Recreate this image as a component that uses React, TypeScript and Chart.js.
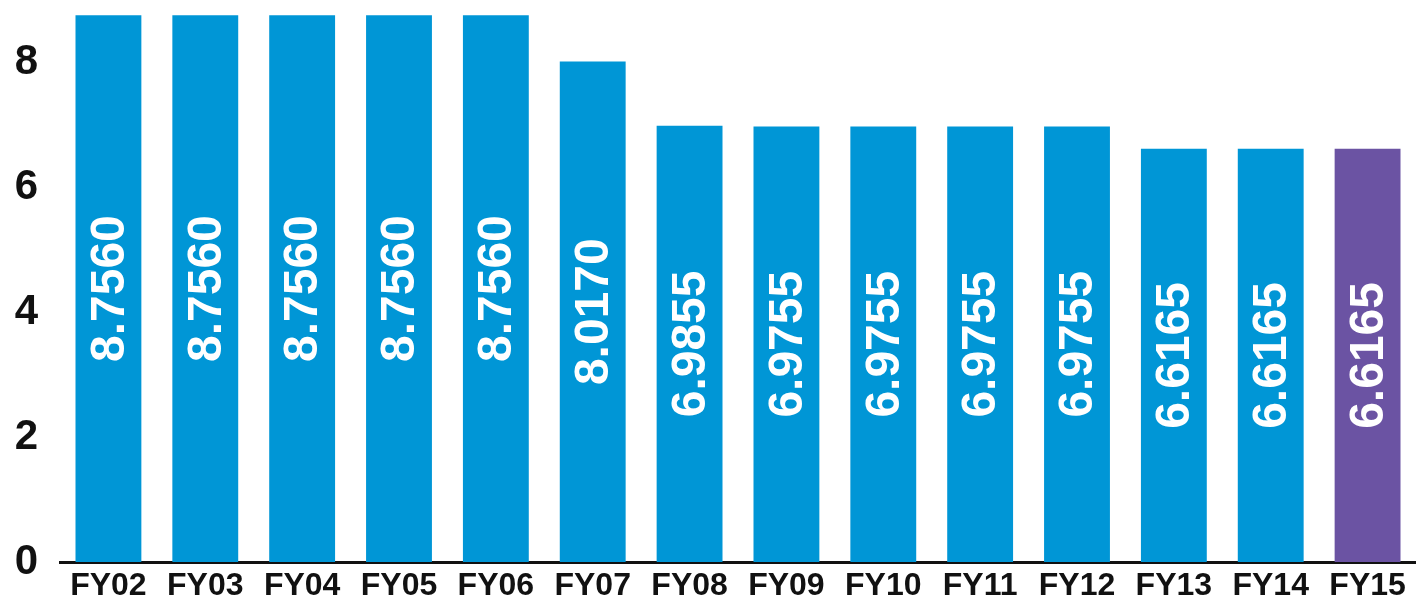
import React, { useEffect, useRef } from "react";
import { Chart, registerables } from "chart.js";

Chart.register(...registerables);

const categories = ["FY02", "FY03", "FY04", "FY05", "FY06", "FY07", "FY08", "FY09", "FY10", "FY11", "FY12", "FY13", "FY14", "FY15"];
const values = [8.756, 8.756, 8.756, 8.756, 8.756, 8.017, 6.9855, 6.9755, 6.9755, 6.9755, 6.9755, 6.6165, 6.6165, 6.6165];
const barColors = ["#0096D6", "#0096D6", "#0096D6", "#0096D6", "#0096D6", "#0096D6", "#0096D6", "#0096D6", "#0096D6", "#0096D6", "#0096D6", "#0096D6", "#0096D6", "#6B53A3"];
const yTicks = [0, 2, 4, 6, 8];

const FONT = "'Liberation Sans', Arial, sans-serif";

const valueLabelPlugin = {
  id: "valueLabels",
  afterDatasetsDraw(chart: any) {
    const ctx = chart.ctx;
    const meta = chart.getDatasetMeta(0);
    ctx.save();
    ctx.fillStyle = "#ffffff";
    ctx.font = `bold 48px ${FONT}`;
    ctx.textAlign = "center";
    ctx.textBaseline = "middle";
    meta.data.forEach((bar: any, i: number) => {
      const cy = (bar.y + bar.base) / 2;
      ctx.save();
      ctx.translate(bar.x, cy);
      ctx.rotate(-Math.PI / 2);
      ctx.fillText(values[i].toFixed(4), 0, 2);
      ctx.restore();
    });
    ctx.restore();
  },
};

export default function App() {
  const ref = useRef<HTMLCanvasElement>(null);
  useEffect(() => {
    if (!ref.current) return;
    const chart = new Chart(ref.current, {
      type: "bar",
      data: {
        labels: categories,
        datasets: [
          {
            data: values,
            backgroundColor: barColors,
            borderWidth: 0,
            barPercentage: 0.68,
            categoryPercentage: 1,
          },
        ],
      },
      options: {
        responsive: false,
        animation: false,
        layout: { padding: { top: 0, right: 0, left: 0, bottom: 0 } },
        plugins: { legend: { display: false }, tooltip: { enabled: false } },
        scales: {
          x: {
            grid: { display: false, drawTicks: false },
            border: { display: true, color: "#111111", width: 3 },
            ticks: {
              color: "#111111",
              font: { family: FONT, size: 32, weight: "bold" },
              padding: 5,
              maxRotation: 0,
              autoSkip: false,
            },
            afterFit(axis: any) {
              axis.height = 46;
              axis.paddingLeft = 0;
              axis.paddingRight = 0;
            },
          },
          y: {
            min: 0,
            max: 9,
            grid: { display: false, drawTicks: false },
            border: { display: false },
            ticks: {
              stepSize: 2,
              color: "#111111",
              font: { family: FONT, size: 42, weight: "bold" },
              padding: 22,
            },
            afterBuildTicks(axis: any) {
              axis.ticks = yTicks.map((v) => ({ value: v }));
            },
            afterFit(axis: any) {
              axis.width = 60;
              axis.paddingTop = 0;
              axis.paddingBottom = 0;
            },
          },
        },
      },
      plugins: [valueLabelPlugin],
    });
    return () => chart.destroy();
  }, []);
  return (
    <div style={{ position: "absolute", left: 0, top: 0, width: 1416, height: 608, background: "#fff" }}>
      <canvas ref={ref} width={1416} height={608} style={{ display: "block" }} />
    </div>
  );
}
